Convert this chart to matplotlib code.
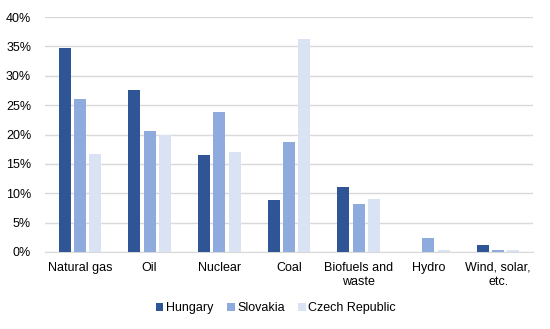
import numpy as np
import matplotlib.pyplot as plt
from matplotlib.ticker import PercentFormatter

plt.rcParams['font.family'] = ['Liberation Sans', 'DejaVu Sans']

categories = ['Natural gas', 'Oil', 'Nuclear', 'Coal', 'Biofuels and\nwaste', 'Hydro', 'Wind, solar,\netc.']
series = ['Hungary', 'Slovakia', 'Czech Republic']
hungary = [34.7, 27.5, 16.5, 8.9, 11.1, 0.05, 1.2]
slovakia = [26.0, 20.6, 23.8, 18.7, 8.1, 2.3, 0.3]
czech = [16.7, 19.9, 17.0, 36.3, 9.1, 0.4, 0.4]
colors = ['#2F5597', '#8FAADC', '#DAE3F3']

fig = plt.figure(figsize=(5.5, 3.29), dpi=100)
ax = fig.add_axes([45 / 550, 1 - 252 / 329, 488 / 550, 235 / 329])

x = np.arange(len(categories))
w = 0.172
step = 0.22
for i, (vals, name) in enumerate(zip([hungary, slovakia, czech], series)):
    ax.bar(x + (i - 1) * step, vals, w, color=colors[i], label=name, zorder=3)

ax.set_xlim(-0.5, len(categories) - 0.5)
ax.set_ylim(0, 40)
ax.set_yticks(np.arange(0, 41, 5))
ax.yaxis.set_major_formatter(PercentFormatter(decimals=0))
ax.set_xticks(x)
ax.set_xticklabels(categories, linespacing=1.2)
ax.grid(axis='y', color='#D9D9D9', linewidth=1, zorder=0)
for s in ['top', 'right', 'left']:
    ax.spines[s].set_visible(False)
ax.spines['bottom'].set_color('#D9D9D9')
ax.tick_params(axis='both', length=0, labelsize=9, colors='black')
ax.tick_params(axis='x', pad=7)
ax.tick_params(axis='y', pad=10)

ax.legend(loc='center', bbox_to_anchor=(276 / 550, 1 - 308 / 329), bbox_transform=fig.transFigure,
          ncol=3, frameon=False, fontsize=9, handlelength=0.6, handleheight=0.6,
          handletextpad=0.2, columnspacing=1.1)

fig.savefig('out.png', dpi=100)
